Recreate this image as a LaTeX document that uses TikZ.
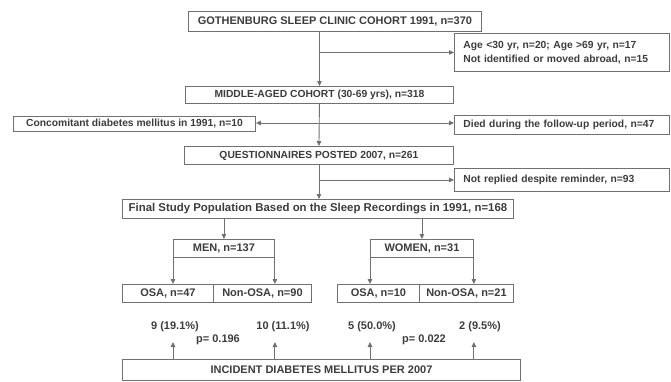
\documentclass[tikz,border=0pt]{standalone}
\usepackage{fontspec}
\setmainfont{Liberation Sans}
\usetikzlibrary{arrows.meta}
\definecolor{linegray}{HTML}{707070}
\definecolor{textgray}{HTML}{3C3C3C}
\begin{document}
\begin{tikzpicture}[x=1pt,y=-1pt,
  txt/.style={font=\fontsize{11}{14}\selectfont\bfseries, text=textgray},
  smalltxt/.style={font=\fontsize{10.3}{14}\selectfont\bfseries},
  box/.style={txt, draw=linegray, line width=0.9pt, inner sep=0pt, anchor=north west},
  lbox/.style={box, smalltxt, align=left, inner xsep=9pt},
  conn/.style={draw=linegray, line width=0.9pt},
  arr/.style={conn, -{Triangle[length=5pt,width=4.5pt]}},
  lbl/.style={txt, inner sep=0pt}]
\useasboundingbox (0,0) rectangle (671,381);
% boxes
\node[box, minimum width=293pt, minimum height=20pt] (top) at (188,11) {GOTHENBURG SLEEP CLINIC COHORT 1991, n=370};
\node[lbox, text width=197pt, minimum height=38pt] (side1) at (454,33) {Age <30 yr, n=20; Age >69 yr, n=17\\Not identified or moved abroad, n=15};
\node[box, smalltxt, minimum width=268pt, minimum height=17pt] (mid) at (185,86) {MIDDLE-AGED COHORT (30-69 yrs), n=318};
\node[box, smalltxt, minimum width=242pt, minimum height=15pt] (concom) at (13,116) {Concomitant diabetes mellitus in 1991, n=10};
\node[lbox, text width=197pt, minimum height=19pt] (died) at (454,115) {Died during the follow-up period, n=47};
\node[box, smalltxt, minimum width=269pt, minimum height=18pt] (quest) at (184,146) {QUESTIONNAIRES POSTED 2007, n=261};
\node[lbox, text width=197pt, minimum height=23pt] (notrep) at (454,168) {Not replied despite reminder, n=93};
\node[box, font=\fontsize{11.4}{14}\selectfont\bfseries, minimum width=391pt, minimum height=19pt] (final) at (122,199) {Final Study Population Based on the Sleep Recordings in 1991, n=168};
\node[box, minimum width=101pt, minimum height=18pt] (men) at (173,239) {MEN, n=137};
\node[box, minimum width=103pt, minimum height=18pt] (women) at (370,239) {WOMEN, n=31};
\node[box, minimum width=91pt, minimum height=18pt] (mosa) at (122,284) {OSA, n=47};
\node[box, minimum width=98pt, minimum height=18pt] (mnon) at (213,284) {Non-OSA, n=90};
\node[box, minimum width=82pt, minimum height=18pt] (wosa) at (337,284) {OSA, n=10};
\node[box, minimum width=94pt, minimum height=18pt] (wnon) at (419,284) {Non-OSA, n=21};
\node[box, minimum width=398pt, minimum height=21pt] (bottom) at (122,359) {INCIDENT DIABETES MELLITUS PER 2007};
% labels
\node[lbl] (n1) at (175,327) {9 (19.1\%)};
\node[lbl] (n2) at (283,327) {10 (11.1\%)};
\node[lbl] (n3) at (372,327) {5 (50.0\%)};
\node[lbl] (n4) at (480,327) {2 (9.5\%)};
\node[lbl] (p1) at (218,340) {p= 0.196};
\node[lbl] (p2) at (424,340) {p= 0.022};
% connectors
\draw[arr] (mid.north |- top.south) -- (mid.north);
\draw[arr] (mid.north |- side1.west) -- (side1.west);
\coordinate (j2) at (mid.south |- 0,123);
\draw[arr] (mid.south) -- (quest.north);
\draw[arr] (j2) -- (j2 -| concom.east);
\draw[arr] (j2) -- (j2 -| died.west);
\draw[arr] (quest.south) -- (quest.south |- final.north);
\draw[arr] (quest.south |- notrep.west) -- (notrep.west);
\draw[arr] (men.north |- final.south) -- (men.north);
\draw[arr] (women.north |- final.south) -- (women.north);
\draw[arr] (men.south west) -- (men.south west |- mosa.north);
\draw[arr] (men.south east) -- (men.south east |- mnon.north);
\draw[arr] (women.south west) -- (women.south west |- wosa.north);
\draw[arr] (women.south east) -- (women.south east |- wnon.north);
\foreach \b/\k in {men.south west/a, men.south east/b, women.south west/c, women.south east/d}{
  \coordinate (up\k) at ([yshift=17pt]\b |- bottom.north);
}
\draw[arr] (men.south west |- bottom.north) -- (upa);
\draw[arr] (men.south east |- bottom.north) -- (upb);
\draw[arr] (women.south west |- bottom.north) -- (upc);
\draw[arr] (women.south east |- bottom.north) -- (upd);
\end{tikzpicture}
\end{document}
